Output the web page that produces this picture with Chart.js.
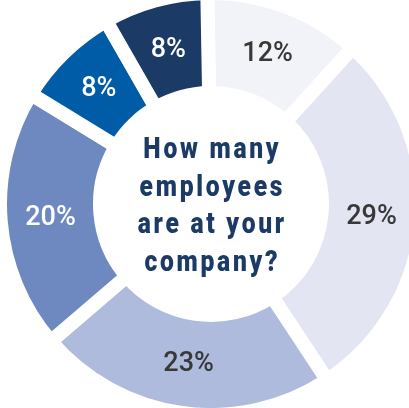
<!DOCTYPE html>
<html>
<head>
<meta charset="utf-8">
<script src="https://cdn.jsdelivr.net/npm/chart.js@4/dist/chart.umd.min.js"></script>
<style>
  html, body { margin: 0; padding: 0; background: #fff; overflow: hidden; }
  #wrap { position: relative; width: 422px; height: 408px; }
</style>
</head>
<body>
<div id="wrap"><canvas id="employeesChart"></canvas></div>
<script>
// company size survey, share of answers per bucket
const sizeLabels = ['12%', '29%', '23%', '20%', '8%', '8%'];
const shareValues = [12, 29, 23, 20, 8, 8];
const sliceColors = ['#f2f3f9', '#e3e6f2', '#afbbdd', '#6e89c0', '#005ca6', '#1b3a66'];
const labelColors = ['#383838', '#383838', '#383838', '#ffffff', '#ffffff', '#ffffff'];
const centerLines = ['How many', 'employees', 'are at your', 'company?'];

// percentage text in the middle of each slice
const sliceLabels = {
  id: 'sliceLabels',
  afterDatasetsDraw(chart) {
    const ctx = chart.ctx;
    const arcs = chart.getDatasetMeta(0).data;
    ctx.save();
    ctx.font = '500 27px Roboto, sans-serif';
    ctx.textAlign = 'center';
    ctx.textBaseline = 'middle';
    arcs.forEach((arc, i) => {
      const pos = arc.tooltipPosition();
      ctx.fillStyle = labelColors[i];
      ctx.fillText(sizeLabels[i], pos.x, pos.y + 1);
    });
    ctx.restore();
  }
};

// question in the hole of the doughnut, squeezed to a condensed look
const centerText = {
  id: 'centerText',
  afterDraw(chart) {
    const ctx = chart.ctx;
    const arc = chart.getDatasetMeta(0).data[0];
    const cx = arc.x, cy = arc.y;
    const lineHeight = 37.5;
    const spacing = 3.2;
    ctx.save();
    ctx.translate(cx, cy);
    ctx.scale(0.85, 1);
    ctx.font = '900 29px Roboto, sans-serif';
    ctx.letterSpacing = spacing + 'px';
    ctx.fillStyle = '#1b3a66';
    ctx.textAlign = 'center';
    ctx.textBaseline = 'alphabetic';
    centerLines.forEach((line, i) => {
      ctx.fillText(line, spacing / 2, -46 + i * lineHeight);
    });
    ctx.restore();
  }
};

new Chart(document.getElementById('employeesChart'), {
  type: 'doughnut',
  data: {
    labels: sizeLabels,
    datasets: [{
      data: shareValues,
      backgroundColor: sliceColors,
      borderColor: '#ffffff',
      borderWidth: 14,
      clip: false
    }]
  },
  options: {
    responsive: true,
    maintainAspectRatio: false,
    animation: false,
    events: [],
    radius: 211,
    cutout: '52.6%',
    rotation: -1,
    layout: { padding: 0 },
    plugins: {
      legend: { display: false },
      tooltip: { enabled: false }
    }
  },
  plugins: [sliceLabels, centerText]
});
</script>
</body>
</html>
